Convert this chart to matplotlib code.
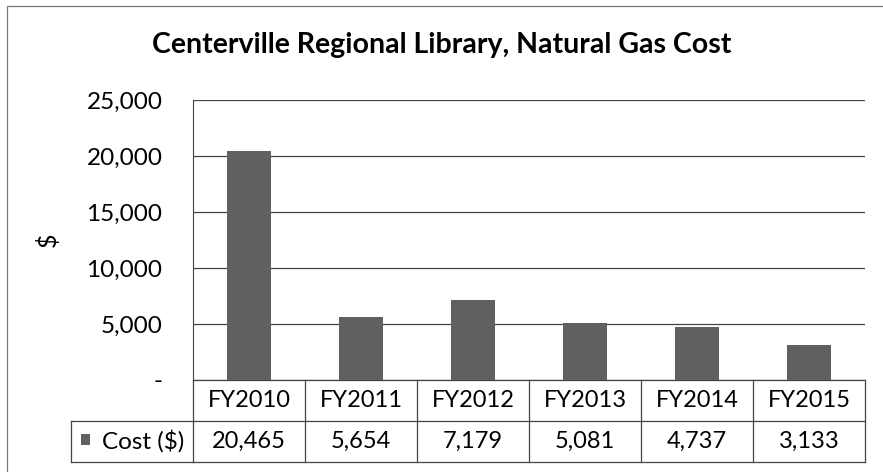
import matplotlib.pyplot as plt
from matplotlib.lines import Line2D
from matplotlib.patches import Rectangle
from matplotlib.ticker import FuncFormatter
from matplotlib.transforms import blended_transform_factory

years = ["FY2010", "FY2011", "FY2012", "FY2013", "FY2014", "FY2015"]
cost = [20465, 5654, 7179, 5081, 4737, 3133]
series_name = "Cost ($)"
bar_color = "#606060"
line_color = "#444444"

plt.rcParams['font.family'] = ['Lato', 'DejaVu Sans']

fig = plt.figure(figsize=(8.83, 4.75), dpi=100)
W, H = 883, 475
# plot area in pixels: x 193..865, y 100..380
px_w, px_h = 672, 280
ax = fig.add_axes([193 / W, (H - 380) / H, px_w / W, px_h / H])

x = list(range(len(years)))
ax.bar(x, cost, width=0.4, color=bar_color, zorder=3)
ax.set_xlim(-0.5, len(years) - 0.5)
ax.set_ylim(0, 25000)
ax.set_yticks(range(0, 25001, 5000))
ax.yaxis.set_major_formatter(FuncFormatter(lambda v, p: "-" if v == 0 else f"{v:,.0f}"))
ax.tick_params(axis='y', length=0, labelsize=17.5, pad=22)
ax.set_xticks([])
ax.grid(axis='y', color=line_color, linewidth=0.9, zorder=0)
for s in ['top', 'right', 'bottom']:
    ax.spines[s].set_visible(False)
ax.spines['left'].set_color(line_color)
ax.set_ylabel("$", fontsize=18)
ax.yaxis.set_label_coords((60 - 193) / px_w, 0.5)

# data table under the plot, drawn by hand
tr = blended_transform_factory(ax.transData, ax.transAxes)
y_mid = (380 - 421) / px_h
y_bot = (380 - 462) / px_h
x_lab = (71 - 193) / px_w
lk = dict(color=line_color, linewidth=0.9, clip_on=False)
ax.plot([-0.5, len(years) - 0.5], [0, 0], transform=tr, **lk)
ax.plot([-0.5, len(years) - 0.5], [y_mid, y_mid], transform=tr, **lk)
ax.plot([-0.5, len(years) - 0.5], [y_bot, y_bot], transform=tr, **lk)
ax.plot([x_lab, 0], [y_mid, y_mid], transform=ax.transAxes, **lk)
ax.plot([x_lab, 0], [y_bot, y_bot], transform=ax.transAxes, **lk)
ax.plot([x_lab, x_lab], [y_mid, y_bot], transform=ax.transAxes, **lk)
for i in range(len(years) + 1):
    ax.plot([i - 0.5, i - 0.5], [0, y_bot], transform=tr, **lk)
for i, (yr, v) in enumerate(zip(years, cost)):
    ax.text(i, y_mid / 2, yr, transform=tr, ha='center', va='center', fontsize=17)
    ax.text(i, (y_mid + y_bot) / 2, f"{v:,}", transform=tr, ha='center', va='center',
            fontsize=17)
ax.text((102 - 193) / px_w, (y_mid + y_bot) / 2, series_name, transform=ax.transAxes,
        ha='left', va='center', fontsize=17.5)
ax.add_patch(Rectangle(((81 - 193) / px_w, (380 - 445) / px_h), 9 / px_w, 11 / px_h,
                       transform=ax.transAxes, facecolor=bar_color, edgecolor='none',
                       clip_on=False))

fig.text(0.5, (H - 45) / H, "Centerville Regional Library, Natural Gas Cost",
         ha='center', va='center', fontsize=20.5, fontweight='bold')

# chart frame (only left and top edges show in the scan)
fig.lines.append(Line2D([7 / W, 7 / W, 1], [4 / H, 1 - 6 / H, 1 - 6 / H],
                        transform=fig.transFigure, color='#777777', linewidth=0.9))

fig.savefig("out.png", dpi=100)
